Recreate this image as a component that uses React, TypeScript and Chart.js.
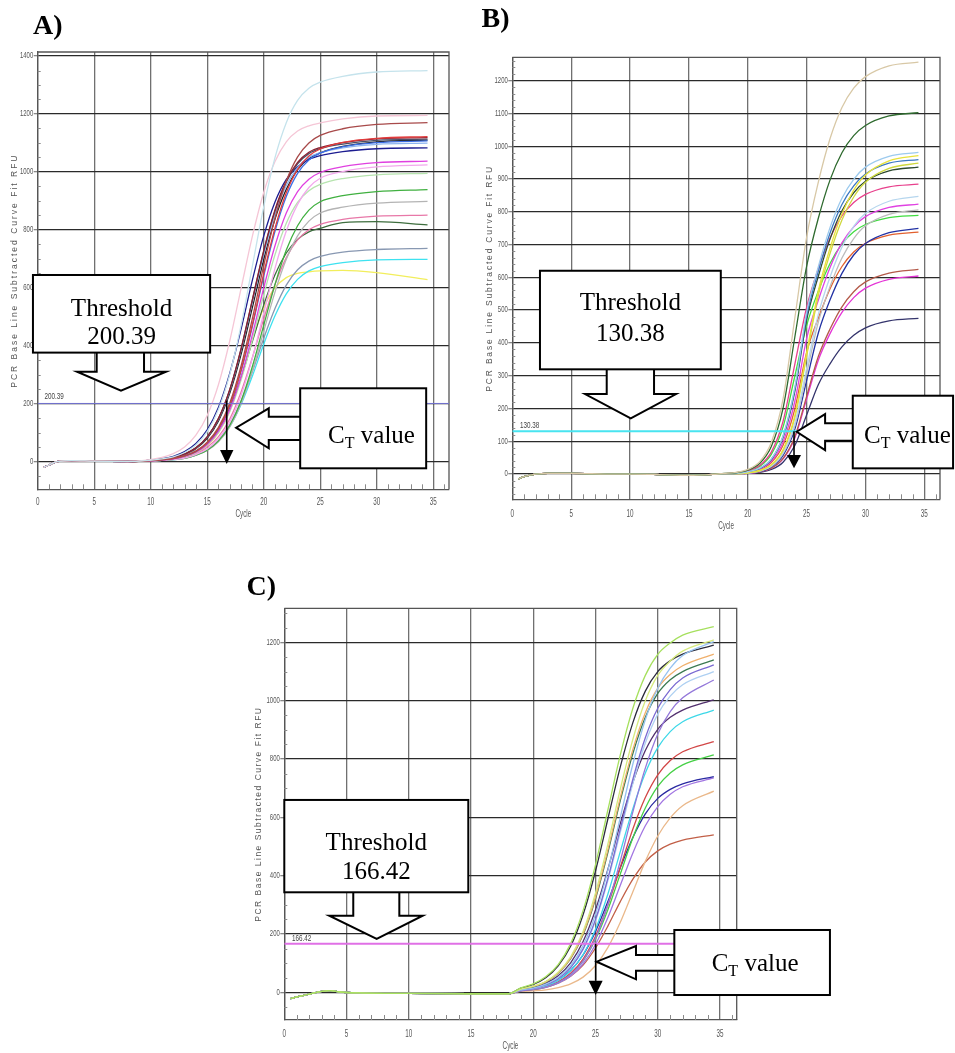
import { useEffect, useRef } from "react";
import { Chart, registerables } from "chart.js";

Chart.register(...registerables);

const SERIF = "'Liberation Serif', 'Times New Roman', serif";
const SANS = "'Liberation Sans', Arial, sans-serif";

const X_TICKS = [0, 5, 10, 15, 20, 25, 30, 35];
const Y_TITLE = "PCR Base Line Subtracted Curve Fit RFU";
const X_TITLE = "Cycle";

// ---------------- Panel A ----------------
const A_Y_TICKS = [0, 200, 400, 600, 800, 1000, 1200, 1400];
const A_THRESHOLD = 200.39;
const A_BASE_CYCLES = [0.5, 1, 1.5, 2, 3, 5, 8];
const A_BASE_RFU = [-20, -12, -3, 1, 3, 1, 0];
const A_RISE_CYCLES = [11, 12, 13, 14, 15, 16, 17, 18, 19, 20, 21, 22, 23, 24, 25, 27, 30, 34.5];
const A_PALE_BLUE = [9, 16, 31, 57, 103, 180, 301, 471, 675, 879, 1049, 1170, 1247, 1289, 1310, 1330, 1345, 1350];
const A_PALE_PINK = [14, 27, 50, 91, 159, 266, 417, 598, 778, 929, 1036, 1104, 1141, 1159, 1169, 1183, 1193, 1195];
const A_BROWN = [6, 11, 20, 36, 67, 118, 202, 330, 494, 676, 840, 968, 1052, 1100, 1126, 1149, 1164, 1170];
const A_RED = [6, 10, 19, 35, 64, 113, 194, 316, 473, 649, 806, 928, 1009, 1055, 1079, 1102, 1116, 1122];
const A_MAROON = [8, 13, 26, 47, 85, 149, 249, 390, 559, 728, 869, 969, 1033, 1068, 1084, 1101, 1114, 1118];
const A_SLATE = [8, 13, 26, 47, 85, 148, 248, 388, 557, 725, 865, 965, 1028, 1063, 1080, 1096, 1109, 1113];
const A_BLUE = [6, 10, 19, 34, 63, 112, 192, 312, 467, 640, 795, 915, 995, 1041, 1065, 1087, 1101, 1107];
const A_LIGHT_BLUE = [8, 13, 25, 46, 84, 146, 245, 384, 550, 715, 854, 953, 1015, 1050, 1066, 1083, 1095, 1099];
const A_NAVY = [10, 18, 34, 62, 109, 187, 305, 457, 626, 778, 896, 974, 1018, 1043, 1056, 1070, 1080, 1083];
const A_MAGENTA = [5, 9, 18, 32, 59, 105, 179, 292, 438, 599, 745, 858, 932, 975, 998, 1018, 1032, 1037];
const A_LIGHT_MAGENTA = [4, 7, 12, 24, 43, 78, 136, 228, 357, 512, 667, 796, 888, 946, 978, 1001, 1017, 1024];
const A_LIGHT_GREEN = [5, 9, 17, 31, 57, 100, 172, 281, 420, 575, 714, 823, 895, 935, 957, 977, 990, 995];
const A_GREEN = [4, 7, 11, 22, 39, 71, 125, 209, 328, 470, 611, 730, 814, 868, 897, 918, 932, 939];
const A_GREY = [4, 6, 11, 21, 38, 68, 119, 200, 313, 449, 585, 698, 779, 830, 858, 878, 892, 898];
const A_PINK = [4, 8, 14, 26, 49, 86, 147, 240, 359, 492, 611, 704, 765, 800, 819, 836, 847, 851];
const A_DARK_GREEN = [6, 10, 19, 35, 63, 110, 185, 290, 415, 540, 645, 720, 767, 793, 805, 825, 828, 817];
const A_GREY_BLUE = [4, 7, 13, 23, 42, 74, 127, 208, 311, 425, 528, 609, 662, 692, 708, 723, 732, 736];
const A_CYAN = [4, 6, 12, 22, 40, 71, 121, 197, 295, 405, 503, 579, 629, 658, 673, 687, 696, 698];
const A_YELLOW = [5, 9, 16, 30, 55, 100, 175, 290, 420, 530, 600, 635, 650, 655, 658, 660, 652, 628];
const A_BLACK = [7, 12, 24, 44, 80, 140, 236, 370, 532, 697, 837, 940, 1008, 1046, 1066, 1088, 1104, 1110];
const A_SERIES = [A_PALE_BLUE, A_PALE_PINK, A_BROWN, A_RED, A_MAROON, A_SLATE, A_BLUE, A_LIGHT_BLUE, A_NAVY, A_MAGENTA,
  A_LIGHT_MAGENTA, A_LIGHT_GREEN, A_GREEN, A_GREY, A_PINK, A_DARK_GREEN, A_GREY_BLUE, A_CYAN, A_YELLOW, A_BLACK];
const A_COLORS = ["#c5e3ec", "#f5c6d6", "#a84a4a", "#e23c3c", "#8c2030", "#4a5068", "#3c6ee6", "#8cb4f0", "#1c1c90", "#e040e0",
  "#f2a8ec", "#b6e4ae", "#40b040", "#b4b4b4", "#e878a8", "#3e6e3e", "#8898b2", "#3ee2f0", "#f2ee5c", "#222222"];

// ---------------- Panel B ----------------
const B_Y_TICKS = [0, 100, 200, 300, 400, 500, 600, 700, 800, 900, 1000, 1100, 1200];
const B_THRESHOLD = 130.38;
const B_BASE_CYCLES = [0.5, 1, 1.5, 2, 3, 5, 8, 12, 15, 17];
const B_BASE_RFU = [-15, -8, -3, 0, 2, 2, 0, -1, -4, -1];
const B_RISE_CYCLES = [18, 19, 20, 21, 22, 23, 24, 25, 26, 27, 28, 29, 30, 32, 34.5];
const B_BEIGE = [2, 5, 14, 37, 96, 229, 476, 722, 891, 1024, 1118, 1177, 1212, 1245, 1256];
const B_DARK_GREEN = [2, 4, 12, 32, 84, 201, 418, 633, 781, 898, 980, 1032, 1063, 1092, 1102];
const B_LIGHT_BLUE = [1, 2, 7, 18, 46, 117, 265, 493, 633, 753, 841, 899, 936, 969, 981];
const B_YELLOW = [1, 1, 4, 11, 28, 74, 178, 369, 559, 690, 793, 866, 912, 955, 971];
const B_STEEL_BLUE = [1, 2, 6, 17, 45, 115, 259, 482, 619, 736, 822, 879, 915, 948, 959];
const B_YELLOW_GREEN = [1, 1, 4, 10, 28, 72, 173, 360, 546, 674, 775, 845, 890, 932, 948];
const B_OLIVE = [1, 2, 6, 17, 44, 112, 253, 470, 604, 718, 803, 858, 893, 925, 936];
const B_PINK = [1, 4, 10, 26, 67, 161, 335, 508, 627, 721, 787, 828, 853, 876, 884];
const B_PALE_BLUE = [1, 1, 3, 9, 25, 65, 155, 322, 488, 602, 692, 755, 795, 832, 847];
const B_MAGENTA = [1, 2, 6, 15, 39, 98, 222, 413, 531, 631, 705, 754, 785, 813, 823];
const B_GREY = [0, 1, 3, 9, 23, 62, 147, 306, 464, 573, 659, 718, 757, 792, 806];
const B_GREEN = [1, 3, 9, 23, 60, 144, 299, 453, 559, 643, 702, 739, 761, 782, 789];
const B_NAVY = [0, 1, 3, 8, 22, 57, 137, 285, 431, 532, 612, 668, 703, 736, 749];
const B_ORANGE = [1, 2, 5, 13, 35, 88, 199, 371, 476, 566, 633, 677, 704, 729, 738];
const B_BROWN = [0, 1, 3, 7, 18, 48, 114, 237, 359, 443, 510, 556, 586, 613, 624];
const B_MAGENTA2 = [0, 1, 2, 7, 18, 46, 110, 229, 348, 429, 493, 538, 567, 594, 604];
const B_DARK_NAVY = [0, 1, 2, 5, 14, 36, 87, 180, 273, 337, 388, 423, 446, 467, 475];
const B_SERIES = [B_BEIGE, B_DARK_GREEN, B_LIGHT_BLUE, B_YELLOW, B_STEEL_BLUE, B_YELLOW_GREEN, B_OLIVE, B_PINK, B_PALE_BLUE,
  B_MAGENTA, B_GREY, B_GREEN, B_NAVY, B_ORANGE, B_BROWN, B_MAGENTA2, B_DARK_NAVY];
const B_COLORS = ["#d8c8a6", "#2e6a2e", "#9ccaee", "#e8e23c", "#3a78c2", "#cfd83e", "#2e4a30", "#e8408c", "#b6d6ee",
  "#e042e2", "#bcbcbc", "#40dc40", "#2232a4", "#e2602e", "#b45a4a", "#e434d6", "#34346c"];

// ---------------- Panel C ----------------
const C_Y_TICKS = [0, 200, 400, 600, 800, 1000, 1200];
const C_THRESHOLD = 166.42;
const C_BASE_CYCLES = [0.5, 1, 2, 3, 3.7, 4.5, 6, 10, 15, 18];
const C_BASE_RFU = [-22, -16, -6, 3, 6, 1, -2, -4, -5, -5];
const C_RISE_CYCLES = [19, 20, 21, 22, 23, 24, 25, 26, 27, 28, 29, 30, 31, 32, 34.5];
const C_LIGHT_GREEN = [15, 29, 53, 95, 167, 280, 438, 627, 816, 974, 1087, 1159, 1198, 1225, 1254];
const C_YELLOW_GREEN = [11, 21, 37, 69, 122, 209, 341, 510, 699, 868, 1000, 1087, 1136, 1170, 1209];
const C_LIGHT_BLUE = [8, 14, 28, 51, 91, 160, 268, 420, 602, 783, 935, 1043, 1112, 1155, 1203];
const C_BLACK = [14, 27, 50, 91, 158, 266, 416, 596, 775, 925, 1033, 1100, 1137, 1160, 1191];
const C_ORANGE = [10, 20, 36, 66, 117, 201, 327, 490, 670, 833, 959, 1043, 1090, 1120, 1160];
const C_DARK_GREEN = [10, 19, 35, 65, 115, 197, 321, 481, 659, 819, 943, 1025, 1072, 1100, 1140];
const C_PURPLE = [8, 13, 26, 47, 85, 149, 250, 392, 562, 731, 873, 974, 1038, 1078, 1123];
const C_PALE_BLUE = [8, 13, 25, 46, 84, 146, 245, 384, 550, 716, 855, 954, 1016, 1055, 1100];
const C_LAVENDER = [5, 10, 18, 33, 61, 108, 185, 302, 452, 619, 769, 886, 963, 1010, 1071];
const C_DARK_PURPLE = [9, 17, 31, 57, 101, 174, 283, 423, 580, 720, 829, 902, 943, 968, 1003];
const C_CYAN = [7, 12, 22, 41, 74, 129, 216, 338, 484, 630, 752, 839, 894, 928, 968];
const C_RED = [6, 10, 20, 36, 65, 114, 192, 300, 430, 560, 668, 746, 795, 825, 860];
const C_GREEN = [6, 10, 19, 34, 62, 108, 182, 284, 407, 530, 632, 706, 752, 780, 814];
const C_NAVY = [7, 13, 23, 42, 75, 128, 209, 312, 428, 531, 612, 665, 696, 715, 740];
const C_VIOLET = [5, 9, 17, 31, 56, 98, 164, 257, 368, 478, 571, 637, 679, 705, 735];
const C_TAN = [3, 5, 8, 16, 29, 52, 92, 154, 241, 345, 449, 536, 598, 640, 690];
const C_BROWN = [5, 9, 17, 31, 55, 93, 152, 228, 312, 388, 447, 485, 508, 522, 540];
const C_SERIES = [C_LIGHT_GREEN, C_YELLOW_GREEN, C_LIGHT_BLUE, C_BLACK, C_ORANGE, C_DARK_GREEN, C_PURPLE, C_PALE_BLUE,
  C_LAVENDER, C_DARK_PURPLE, C_CYAN, C_RED, C_GREEN, C_NAVY, C_VIOLET, C_TAN, C_BROWN];
const C_COLORS = ["#a6e05e", "#d6ea7e", "#96c2f0", "#2c2c3c", "#f0b06c", "#3c7a52", "#7a6ad2", "#aed0f2",
  "#9478da", "#52306e", "#3ed8e8", "#d24646", "#46d046", "#2a2aa2", "#a276e2", "#eab88a", "#c26048"];

type Box = { left: number; top: number; width: number; height: number };
type Area = { left: number; top: number; right: number; bottom: number };

type PanelProps = {
  canvas: Box;
  area: Area;
  xMax: number;
  yMin: number;
  yMax: number;
  yTicks: number[];
  yMinorStep: number;
  threshold: number;
  thresholdColor: string;
  thresholdWidth: number;
  thresholdLabel: { c: number; dy: number };
  baseCycles: number[];
  baseRfu: number[];
  riseCycles: number[];
  series: number[][];
  colors: string[];
  label: { text: string; x: number; y: number };
  yTitle: { dx: number; spacing: number };
  xTitleDy: number;
  xTickDy: number;
  thrCallout: { box: number[]; stem: number[]; head: number[]; tip: number[]; lines: number[] };
  ctCallout: { box: number[]; stem: number[]; head: number[]; tip: number[]; text: number[] };
  arrow: { c: number; vTop: number; vHead: number; vTip: number; hw: number };
};

function Panel(p: PanelProps) {
  const ref = useRef<HTMLCanvasElement | null>(null);
  useEffect(() => {
    const canvas = ref.current;
    if (!canvas) return;
    const cv = p.canvas;
    const area = p.area;
    const cycles = p.baseCycles.concat(p.riseCycles);
    const datasets: any[] = [
      {
        data: [
          { x: 0, y: p.threshold },
          { x: p.xMax, y: p.threshold },
        ],
        borderColor: p.thresholdColor,
        borderWidth: p.thresholdWidth,
        pointRadius: 0,
        tension: 0,
      },
    ];
    p.series.forEach((vals, i) => {
      const ys = p.baseRfu.concat(vals);
      datasets.push({
        data: cycles.map((x, j) => ({ x, y: ys[j] })),
        borderColor: p.colors[i],
        borderWidth: 1.3,
        pointRadius: 0,
        cubicInterpolationMode: "monotone",
      });
    });

    const overlay = {
      id: "overlay" + p.label.text.charAt(0),
      beforeDatasetsDraw(chart: any) {
        const ctx = chart.ctx;
        const ca = chart.chartArea;
        const xs = chart.scales.x;
        const ys = chart.scales.y;
        ctx.save();
        ctx.strokeStyle = "#555";
        ctx.lineWidth = 1.3;
        ctx.beginPath();
        ctx.moveTo(ca.left, ca.top);
        ctx.lineTo(ca.right, ca.top);
        ctx.lineTo(ca.right, ca.bottom);
        ctx.stroke();
        ctx.strokeStyle = "#8a8a8a";
        ctx.lineWidth = 1;
        for (let c = 1; c <= Math.floor(p.xMax); c++) {
          if (c % 5 === 0) continue;
          const x = Math.round(xs.getPixelForValue(c)) + 0.5;
          ctx.beginPath();
          ctx.moveTo(x, ca.bottom);
          ctx.lineTo(x, ca.bottom - 5);
          ctx.stroke();
        }
        const major = p.yTicks[1] - p.yTicks[0];
        const start = Math.ceil(p.yMin / p.yMinorStep) * p.yMinorStep;
        for (let v = start; v <= p.yMax; v += p.yMinorStep) {
          if (Math.abs(v % major) < 1e-6) continue;
          const y = Math.round(ys.getPixelForValue(v)) + 0.5;
          ctx.beginPath();
          ctx.moveTo(ca.left, y);
          ctx.lineTo(ca.left + 3, y);
          ctx.stroke();
        }
        ctx.restore();
      },
      afterDraw(chart: any) {
        const ctx = chart.ctx;
        const ca = chart.chartArea;
        const X = (c: number) => chart.scales.x.getPixelForValue(c);
        const Y = (v: number) => chart.scales.y.getPixelForValue(v);
        ctx.save();

        // tick labels (condensed, like the original export)
        ctx.fillStyle = "#555";
        ctx.textBaseline = "alphabetic";
        ctx.font = `10px ${SANS}`;
        ctx.textAlign = "center";
        X_TICKS.forEach((v) => {
          ctx.save();
          ctx.translate(X(v), ca.bottom + p.xTickDy);
          ctx.scale(0.63, 1);
          ctx.fillText(String(v), 0, 0);
          ctx.restore();
        });
        ctx.font = `8.5px ${SANS}`;
        ctx.textAlign = "right";
        ctx.textBaseline = "middle";
        p.yTicks.forEach((v) => {
          ctx.save();
          ctx.translate(ca.left - 4.5, Y(v));
          ctx.scale(0.7, 1);
          ctx.fillText(String(v), 0, 0);
          ctx.restore();
        });

        // axis titles
        ctx.textAlign = "center";
        ctx.font = `8.5px ${SANS}`;
        ctx.save();
        ctx.translate(ca.left - p.yTitle.dx, (ca.top + ca.bottom) / 2);
        ctx.rotate(-Math.PI / 2);
        (ctx as any).letterSpacing = p.yTitle.spacing + "px";
        ctx.fillText(Y_TITLE, 0, 0);
        ctx.restore();
        ctx.textBaseline = "alphabetic";
        ctx.font = `10px ${SANS}`;
        ctx.save();
        ctx.translate((ca.left + ca.right) / 2, ca.bottom + p.xTitleDy);
        ctx.scale(0.63, 1);
        ctx.fillText(X_TITLE, 0, 0);
        ctx.restore();

        // threshold value label
        ctx.fillStyle = "#444";
        ctx.font = `9px ${SANS}`;
        ctx.textAlign = "left";
        ctx.save();
        ctx.translate(X(p.thresholdLabel.c), Y(p.threshold) - p.thresholdLabel.dy);
        ctx.scale(0.7, 1);
        ctx.fillText(p.threshold.toFixed(2), 0, 0);
        ctx.restore();

        // panel label
        ctx.fillStyle = "#000";
        ctx.font = `bold 28px ${SERIF}`;
        ctx.fillText(p.label.text, p.label.x, p.label.y);

        ctx.lineWidth = 2;
        ctx.strokeStyle = "#000";
        ctx.lineJoin = "miter";

        // threshold callout (box + down arrow)
        {
          const co = p.thrCallout;
          const l = X(co.box[0]), r = X(co.box[1]), t = Y(co.box[2]), b = Y(co.box[3]);
          const sL = X(co.stem[0]), sR = X(co.stem[1]), sB = Y(co.stem[2]);
          const hL = X(co.head[0]), hR = X(co.head[1]);
          const tx = X(co.tip[0]), ty = Y(co.tip[1]);
          ctx.fillStyle = "#fff";
          ctx.beginPath();
          ctx.moveTo(sL, b);
          ctx.lineTo(sL, sB);
          ctx.lineTo(hL, sB);
          ctx.lineTo(tx, ty);
          ctx.lineTo(hR, sB);
          ctx.lineTo(sR, sB);
          ctx.lineTo(sR, b);
          ctx.fill();
          ctx.stroke();
          ctx.fillRect(l, t, r - l, b - t);
          ctx.strokeRect(l, t, r - l, b - t);
          ctx.fillStyle = "#000";
          ctx.font = `25px ${SERIF}`;
          ctx.textAlign = "center";
          ctx.fillText("Threshold", (l + r) / 2, Y(co.lines[0]));
          ctx.fillText(p.threshold.toFixed(2), (l + r) / 2, Y(co.lines[1]));
        }

        // C_T callout (box + left arrow)
        {
          const co = p.ctCallout;
          const l = X(co.box[0]), r = X(co.box[1]), t = Y(co.box[2]), b = Y(co.box[3]);
          const sT = Y(co.stem[0]), sB = Y(co.stem[1]);
          const hx = X(co.head[0]), hT = Y(co.head[1]), hB = Y(co.head[2]);
          const tx = X(co.tip[0]), ty = Y(co.tip[1]);
          ctx.fillStyle = "#fff";
          ctx.beginPath();
          ctx.moveTo(l, sT);
          ctx.lineTo(hx, sT);
          ctx.lineTo(hx, hT);
          ctx.lineTo(tx, ty);
          ctx.lineTo(hx, hB);
          ctx.lineTo(hx, sB);
          ctx.lineTo(l, sB);
          ctx.fill();
          ctx.stroke();
          ctx.fillRect(l, t, r - l, b - t);
          ctx.strokeRect(l, t, r - l, b - t);
          ctx.fillStyle = "#000";
          ctx.textAlign = "left";
          let x = X(co.text[0]);
          const y = Y(co.text[1]);
          ctx.font = `25px ${SERIF}`;
          ctx.fillText("C", x, y);
          x += ctx.measureText("C").width;
          ctx.font = `16px ${SERIF}`;
          ctx.fillText("T", x, y + 5);
          x += ctx.measureText("T").width;
          ctx.font = `25px ${SERIF}`;
          ctx.fillText(" value", x, y);
        }

        // black C_T arrow
        {
          const a = p.arrow;
          const x = X(a.c), yT = Y(a.vTop), yH = Y(a.vHead), yTip = Y(a.vTip);
          ctx.strokeStyle = "#000";
          ctx.lineWidth = 1.6;
          ctx.beginPath();
          ctx.moveTo(x, yT);
          ctx.lineTo(x, yH);
          ctx.stroke();
          ctx.fillStyle = "#000";
          ctx.beginPath();
          ctx.moveTo(x - a.hw, yH);
          ctx.lineTo(x + a.hw, yH);
          ctx.lineTo(x, yTip);
          ctx.closePath();
          ctx.fill();
        }
        ctx.restore();
      },
    };

    const chart = new Chart(canvas, {
      type: "line",
      data: { datasets },
      options: {
        animation: false,
        responsive: false,
        devicePixelRatio: 1,
        events: [],
        layout: {
          padding: {
            left: 0,
            top: area.top - cv.top,
            right: cv.left + cv.width - area.right,
            bottom: 0,
          },
        },
        plugins: {
          legend: { display: false },
          tooltip: { enabled: false },
          title: { display: false },
        },
        scales: {
          x: {
            type: "linear",
            min: 0,
            max: p.xMax,
            afterBuildTicks: (s: any) => {
              s.ticks = X_TICKS.map((v) => ({ value: v }));
            },
            afterFit: (s: any) => {
              s.height = cv.top + cv.height - area.bottom;
            },
            grid: { color: "#707070", lineWidth: 1.3, drawTicks: false },
            border: { display: true, color: "#555", width: 1.3 },
            ticks: { display: false },
          },
          y: {
            type: "linear",
            min: p.yMin,
            max: p.yMax,
            afterBuildTicks: (s: any) => {
              s.ticks = p.yTicks.map((v) => ({ value: v }));
            },
            afterFit: (s: any) => {
              s.width = area.left - cv.left;
            },
            grid: { color: "#2a2a2a", lineWidth: 1.3, tickLength: 4, tickColor: "#888" },
            border: { display: true, color: "#555", width: 1.3 },
            ticks: { display: false },
          },
        },
      } as any,
      plugins: [overlay],
    });
    return () => chart.destroy();
  }, []);

  return (
    <canvas
      ref={ref}
      width={p.canvas.width}
      height={p.canvas.height}
      style={{
        position: "absolute",
        left: p.canvas.left,
        top: p.canvas.top,
        width: p.canvas.width,
        height: p.canvas.height,
      }}
    />
  );
}

export default function App() {
  return (
    <div style={{ position: "absolute", left: 0, top: 0, width: 955, height: 1053, background: "#fff" }}>
      <Panel
        canvas={{ left: 0, top: 0, width: 478, height: 525 }}
        area={{ left: 37.7, top: 52, right: 449, bottom: 489.3 }}
        xMax={36.4}
        yMin={-96}
        yMax={1414}
        yTicks={A_Y_TICKS}
        yMinorStep={50}
        threshold={A_THRESHOLD}
        thresholdColor="#7474d4"
        thresholdWidth={1}
        thresholdLabel={{ c: 0.6, dy: 4.5 }}
        baseCycles={A_BASE_CYCLES}
        baseRfu={A_BASE_RFU}
        riseCycles={A_RISE_CYCLES}
        series={A_SERIES}
        colors={A_COLORS}
        label={{ text: "A)", x: 33, y: 33.5 }}
        yTitle={{ dx: 22.7, spacing: 2 }}
        xTitleDy={28}
        xTickDy={16}
        thrCallout={{
          box: [-0.42, 15.26, 644, 376],
          stem: [5.22, 9.41, 310],
          head: [3.48, 11.36],
          tip: [7.37, 244.5],
          lines: [503, 407],
        }}
        ctCallout={{
          box: [23.23, 34.38, 252.8, -23.5],
          stem: [154.7, 74.2],
          head: [20.45, 183.7, 45.6],
          tip: [17.56, 116.7],
          text: [25.7, 65.6],
        }}
        arrow={{ c: 16.73, vTop: 210, vHead: 39.7, vTip: -8.6, hw: 6.7 }}
      />
      <Panel
        canvas={{ left: 478, top: 0, width: 477, height: 540 }}
        area={{ left: 512.3, top: 57.3, right: 940, bottom: 499.3 }}
        xMax={36.33}
        yMin={-77}
        yMax={1271}
        yTicks={B_Y_TICKS}
        yMinorStep={20}
        threshold={B_THRESHOLD}
        thresholdColor="#48e4f0"
        thresholdWidth={2}
        thresholdLabel={{ c: 0.65, dy: 3 }}
        baseCycles={B_BASE_CYCLES}
        baseRfu={B_BASE_RFU}
        riseCycles={B_RISE_CYCLES}
        series={B_SERIES}
        colors={B_COLORS}
        label={{ text: "B)", x: 3.5, y: 27.3 }}
        yTitle={{ dx: 22.3, spacing: 1.8 }}
        xTitleDy={30}
        xTickDy={17.3}
        thrCallout={{
          box: [2.35, 17.71, 620, 319.4],
          stem: [8.02, 12.04, 244],
          head: [6.18, 13.91],
          tip: [10.06, 170],
          lines: [501, 405.7],
        }}
        ctCallout={{
          box: [28.92, 37.44, 238.9, 17.4],
          stem: [154.7, 101.6],
          head: [26.57, 183, 73.2],
          tip: [24.16, 129],
          text: [29.88, 94.6],
        }}
        arrow={{ c: 23.93, vTop: 130.38, vHead: 58, vTip: 17.4, hw: 7 }}
      />
      <Panel
        canvas={{ left: 230, top: 560, width: 605, height: 493 }}
        area={{ left: 284.3, top: 608.3, right: 736.7, bottom: 1020 }}
        xMax={36.34}
        yMin={-95}
        yMax={1317}
        yTicks={C_Y_TICKS}
        yMinorStep={50}
        threshold={C_THRESHOLD}
        thresholdColor="#e070e6"
        thresholdWidth={2}
        thresholdLabel={{ c: 0.62, dy: 2.5 }}
        baseCycles={C_BASE_CYCLES}
        baseRfu={C_BASE_RFU}
        riseCycles={C_RISE_CYCLES}
        series={C_SERIES}
        colors={C_COLORS}
        label={{ text: "C)", x: 16.5, y: 35 }}
        yTitle={{ dx: 25.3, spacing: 1.5 }}
        xTitleDy={29}
        xTickDy={16.6}
        thrCallout={{
          box: [0, 14.78, 659.7, 343],
          stem: [5.54, 9.24, 262.8],
          head: [3.61, 11.12],
          tip: [7.42, 182.8],
          lines: [489, 390],
        }}
        ctCallout={{
          box: [31.33, 43.83, 213.7, -9.3],
          stem: [128, 74.1],
          head: [28.25, 158.8, 44.6],
          tip: [25.09, 105],
          text: [34.33, 71.4],
        }}
        arrow={{ c: 25.01, vTop: 166.42, vHead: 39.8, vTip: -9.3, hw: 7 }}
      />
    </div>
  );
}
